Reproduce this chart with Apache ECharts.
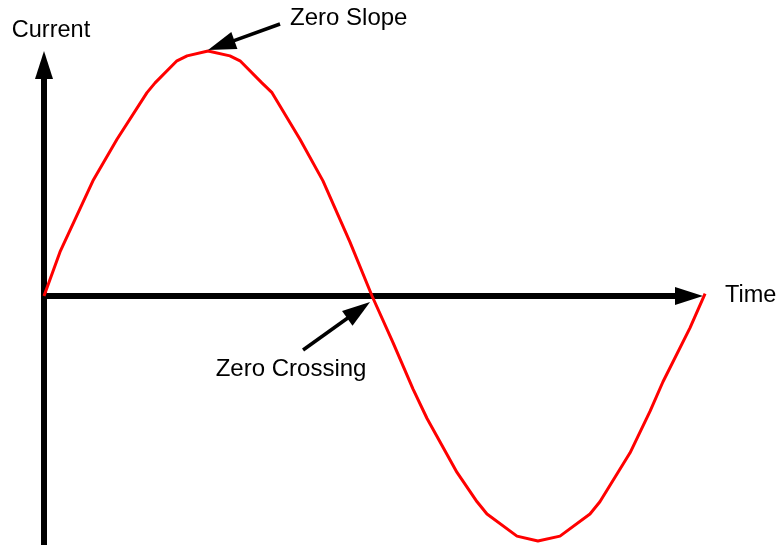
<!DOCTYPE html>
<html>
<head>
<meta charset="utf-8">
<title>Current vs Time</title>
<script src="https://cdn.jsdelivr.net/npm/echarts@6/dist/echarts.min.js"></script>
<style>
  html, body { margin: 0; padding: 0; background: #fff; }
  #chart { width: 783px; height: 545px; }
</style>
</head>
<body>
<div id="chart"></div>
<script>
// time in degrees of one cycle, current relative to peak
const timeDeg = [0, 8.7, 26.6, 39.7, 56.0, 60.4, 72.3, 77.8, 89.2, 101.1, 106.6, 118.5, 124.0, 139.2, 151.7, 166.4, 178.4,
  189.8, 200.7, 208.3, 224.6, 235.5, 240.9, 257.2, 268.6, 280.6, 296.9, 302.3, 318.7, 329.6, 336.6, 351.3, 359.5];
const current = [0, 0.18, 0.47, 0.64, 0.83, 0.87, 0.96, 0.98, 1.0, 0.98, 0.96, 0.87, 0.83, 0.64, 0.47, 0.22, 0,
  -0.19, -0.38, -0.5, -0.72, -0.84, -0.89, -0.98, -1.0, -0.98, -0.89, -0.84, -0.64, -0.47, -0.35, -0.13, 0.01];

const peakPoint = [89.2, 1.0];
const crossPoint = [178.4, 0];

const font = "Liberation Sans, Arial, sans-serif";
const yMin = -1.0163;
const yMax = 0.9429;

const chart = echarts.init(document.getElementById("chart"));

const hidden = {
  axisLine: { show: false },
  axisTick: { show: false },
  axisLabel: { show: false },
  splitLine: { show: false }
};

chart.setOption({
  animation: false,
  grid: [
    // grid 0 holds the curve, grid 1 only the arrowed axes
    { left: 44, right: 77, top: 65, bottom: 0 },
    { left: 44, right: 94, top: 65, bottom: 0 }
  ],
  xAxis: [
    Object.assign({ type: "value", gridIndex: 0, min: 0, max: 360 }, hidden),
    {
      type: "value",
      gridIndex: 1,
      min: 0,
      max: 350.76,
      name: "Time",
      nameLocation: "end",
      nameGap: 36,
      nameTextStyle: { color: "#000", fontSize: 23.5, fontFamily: font },
      axisLine: {
        onZero: true,
        symbol: ["none", "triangle"],
        symbolSize: [18, 28],
        lineStyle: { color: "#000", width: 6 }
      },
      axisTick: { show: false },
      axisLabel: { show: false },
      splitLine: { show: false }
    }
  ],
  yAxis: [
    Object.assign({ type: "value", gridIndex: 0, min: yMin, max: yMax }, hidden),
    {
      type: "value",
      gridIndex: 1,
      min: yMin,
      max: yMax,
      name: "Current",
      nameLocation: "end",
      nameGap: 22,
      nameTextStyle: { color: "#000", fontSize: 23.5, fontFamily: font, padding: [0, 0, 0, 14] },
      axisLine: {
        symbol: ["none", "triangle"],
        symbolSize: [18, 28],
        lineStyle: { color: "#000", width: 6 }
      },
      axisTick: { show: false },
      axisLabel: { show: false },
      splitLine: { show: false }
    }
  ],
  series: [
    {
      type: "line",
      xAxisIndex: 0,
      yAxisIndex: 0,
      data: timeDeg.map((t, i) => [t, current[i]]),
      showSymbol: false,
      smooth: false,
      clip: false,
      lineStyle: { color: "#ff0000", width: 3 }
    }
  ]
});

// arrow made of a line and a triangle head, ending at tip
function arrow(from, tip) {
  const dx = tip[0] - from[0];
  const dy = tip[1] - from[1];
  const len = Math.sqrt(dx * dx + dy * dy);
  const ux = dx / len, uy = dy / len;
  const bx = tip[0] - ux * 28, by = tip[1] - uy * 28;
  const px = -uy * 9, py = ux * 9;
  return [
    {
      type: "line",
      shape: { x1: from[0], y1: from[1], x2: bx + ux * 4, y2: by + uy * 4 },
      style: { stroke: "#000", lineWidth: 3.5 },
      z: 10
    },
    {
      type: "polygon",
      shape: { points: [tip, [bx + px, by + py], [bx - px, by - py]] },
      style: { fill: "#000" },
      z: 10
    }
  ];
}

const peak = chart.convertToPixel({ gridIndex: 0 }, peakPoint);
const cross = chart.convertToPixel({ gridIndex: 0 }, crossPoint);

chart.setOption({
  graphic: [
    ...arrow([peak[0] + 72, peak[1] - 27], [peak[0], peak[1] - 1]),
    {
      type: "text",
      x: peak[0] + 82,
      y: peak[1] - 33,
      style: { text: "Zero Slope", fill: "#000", font: "24px " + font, textVerticalAlign: "middle" },
      z: 10
    },
    ...arrow([cross[0] - 69, cross[1] + 54], [cross[0] - 2, cross[1] + 6]),
    {
      type: "text",
      x: cross[0] - 81,
      y: cross[1] + 73,
      style: { text: "Zero Crossing", fill: "#000", font: "24px " + font, textAlign: "center", textVerticalAlign: "middle" },
      z: 10
    }
  ]
});
</script>
</body>
</html>
